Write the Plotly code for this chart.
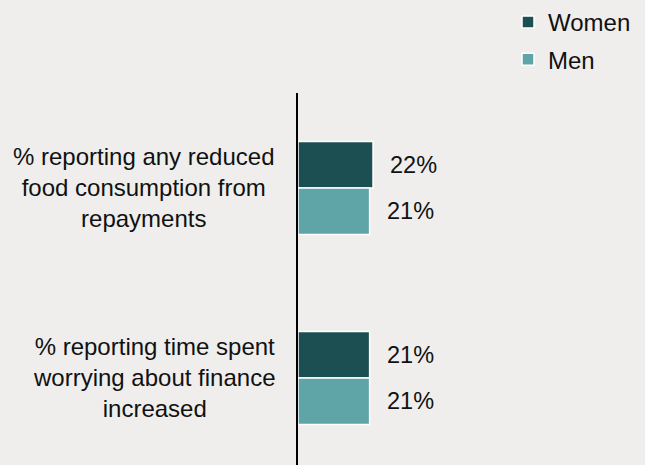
import plotly.graph_objects as go

categories = [
    "% reporting any reduced<br>food consumption from<br>repayments",
    "% reporting time spent<br>worrying about finance<br>increased",
]
series_names = ["Women", "Men"]
women = [22, 21]
men = [21, 21]
colors = ["#1b4f52", "#5fa5a8"]

bg = "#efeeec"
font_family = "Liberation Sans, Arial, sans-serif"

fig = go.Figure()
for name, vals, col in zip(series_names, [women, men], colors):
    fig.add_trace(go.Bar(
        y=categories, x=vals, name=name, orientation="h",
        marker=dict(color=col, line=dict(color="white", width=1.5)),
        legendgroup=name, hoverinfo="skip",
    ))

annotations = []
# value labels
offsets = [-0.1225, 0.1225]
for vals, off in zip([women, men], offsets):
    for i, v in enumerate(vals):
        annotations.append(dict(
            x=v, y=i + off, xref="x", yref="y", text=f"{v}%",
            showarrow=False, xanchor="left", yanchor="middle", xshift=15,
            font=dict(size=23.5, color="#111111", family=font_family),
        ))
# category labels
for i, c in enumerate(categories):
    annotations.append(dict(
        x=-21 / 341, y=i, xref="paper", yref="y", text=c,
        showarrow=False, xanchor="right", yanchor="middle", align="center",
        font=dict(size=24, color="#111111", family=font_family),
    ))

fig.update_layout(
    width=645, height=465,
    margin=dict(l=298, r=6, t=93, b=0),
    paper_bgcolor=bg, plot_bgcolor=bg,
    barmode="group", bargap=0.51, bargroupgap=0,
    font=dict(family=font_family, size=24, color="#111111"),
    xaxis=dict(range=[0, 100], visible=False, fixedrange=True),
    yaxis=dict(range=[1.458, -0.5], showticklabels=False, ticks="",
               showline=True, linecolor="black", linewidth=2,
               showgrid=False, zeroline=False, fixedrange=True),
    legend=dict(
        x=(508 - 298) / 341, xanchor="left",
        yref="container", y=1.0, yanchor="top",
        traceorder="grouped", tracegroupgap=3,
        bgcolor="rgba(0,0,0,0)",
        font=dict(size=24, family=font_family, color="#111111"),
    ),
    annotations=annotations,
    showlegend=True,
)

fig.write_html("out.html")
